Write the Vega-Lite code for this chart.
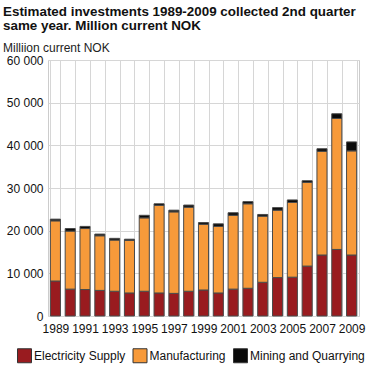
{
  "$schema": "https://vega.github.io/schema/vega-lite/v6.json",
  "width": 311,
  "height": 256,
  "autosize": {"type": "none"},
  "padding": {"left": 48, "top": 60, "right": 10, "bottom": 53},
  "background": "white",
  "title": {
    "text": ["Estimated investments 1989-2009 collected 2nd quarter", "same year. Million current NOK"],
    "subtitle": "Milliion current NOK",
    "anchor": "start",
    "frame": "group",
    "font": "Liberation Sans",
    "fontSize": 13.4,
    "fontWeight": "bold",
    "color": "#111111",
    "lineHeight": 13.5,
    "subtitleFont": "Liberation Sans",
    "subtitleFontSize": 12,
    "subtitleColor": "#222222",
    "subtitlePadding": 11,
    "dx": -45,
    "offset": 0
  },
  "data": {
    "values": [
      {"year": 1989, "sector": "Electricity Supply", "value": 8200},
      {"year": 1989, "sector": "Manufacturing", "value": 14100},
      {"year": 1989, "sector": "Mining and Quarrying", "value": 400},
      {"year": 1990, "sector": "Electricity Supply", "value": 6300},
      {"year": 1990, "sector": "Manufacturing", "value": 13600},
      {"year": 1990, "sector": "Mining and Quarrying", "value": 600},
      {"year": 1991, "sector": "Electricity Supply", "value": 6200},
      {"year": 1991, "sector": "Manufacturing", "value": 14300},
      {"year": 1991, "sector": "Mining and Quarrying", "value": 500},
      {"year": 1992, "sector": "Electricity Supply", "value": 6000},
      {"year": 1992, "sector": "Manufacturing", "value": 12800},
      {"year": 1992, "sector": "Mining and Quarrying", "value": 400},
      {"year": 1993, "sector": "Electricity Supply", "value": 5800},
      {"year": 1993, "sector": "Manufacturing", "value": 12000},
      {"year": 1993, "sector": "Mining and Quarrying", "value": 400},
      {"year": 1994, "sector": "Electricity Supply", "value": 5400},
      {"year": 1994, "sector": "Manufacturing", "value": 12300},
      {"year": 1994, "sector": "Mining and Quarrying", "value": 300},
      {"year": 1995, "sector": "Electricity Supply", "value": 5800},
      {"year": 1995, "sector": "Manufacturing", "value": 17200},
      {"year": 1995, "sector": "Mining and Quarrying", "value": 600},
      {"year": 1996, "sector": "Electricity Supply", "value": 5400},
      {"year": 1996, "sector": "Manufacturing", "value": 20500},
      {"year": 1996, "sector": "Mining and Quarrying", "value": 400},
      {"year": 1997, "sector": "Electricity Supply", "value": 5300},
      {"year": 1997, "sector": "Manufacturing", "value": 19100},
      {"year": 1997, "sector": "Mining and Quarrying", "value": 400},
      {"year": 1998, "sector": "Electricity Supply", "value": 5800},
      {"year": 1998, "sector": "Manufacturing", "value": 19700},
      {"year": 1998, "sector": "Mining and Quarrying", "value": 500},
      {"year": 1999, "sector": "Electricity Supply", "value": 6100},
      {"year": 1999, "sector": "Manufacturing", "value": 15400},
      {"year": 1999, "sector": "Mining and Quarrying", "value": 400},
      {"year": 2000, "sector": "Electricity Supply", "value": 5400},
      {"year": 2000, "sector": "Manufacturing", "value": 15600},
      {"year": 2000, "sector": "Mining and Quarrying", "value": 600},
      {"year": 2001, "sector": "Electricity Supply", "value": 6300},
      {"year": 2001, "sector": "Manufacturing", "value": 17300},
      {"year": 2001, "sector": "Mining and Quarrying", "value": 600},
      {"year": 2002, "sector": "Electricity Supply", "value": 6500},
      {"year": 2002, "sector": "Manufacturing", "value": 19800},
      {"year": 2002, "sector": "Mining and Quarrying", "value": 500},
      {"year": 2003, "sector": "Electricity Supply", "value": 7900},
      {"year": 2003, "sector": "Manufacturing", "value": 15500},
      {"year": 2003, "sector": "Mining and Quarrying", "value": 400},
      {"year": 2004, "sector": "Electricity Supply", "value": 9000},
      {"year": 2004, "sector": "Manufacturing", "value": 15800},
      {"year": 2004, "sector": "Mining and Quarrying", "value": 600},
      {"year": 2005, "sector": "Electricity Supply", "value": 9100},
      {"year": 2005, "sector": "Manufacturing", "value": 17500},
      {"year": 2005, "sector": "Mining and Quarrying", "value": 600},
      {"year": 2006, "sector": "Electricity Supply", "value": 11700},
      {"year": 2006, "sector": "Manufacturing", "value": 19600},
      {"year": 2006, "sector": "Mining and Quarrying", "value": 400},
      {"year": 2007, "sector": "Electricity Supply", "value": 14300},
      {"year": 2007, "sector": "Manufacturing", "value": 24300},
      {"year": 2007, "sector": "Mining and Quarrying", "value": 600},
      {"year": 2008, "sector": "Electricity Supply", "value": 15600},
      {"year": 2008, "sector": "Manufacturing", "value": 30700},
      {"year": 2008, "sector": "Mining and Quarrying", "value": 1100},
      {"year": 2009, "sector": "Electricity Supply", "value": 14300},
      {"year": 2009, "sector": "Manufacturing", "value": 24400},
      {"year": 2009, "sector": "Mining and Quarrying", "value": 2100}
    ]
  },
  "mark": {"type": "bar", "stroke": "#4a4a4a", "strokeWidth": 1},
  "encoding": {
    "x": {
      "field": "year",
      "type": "ordinal",
      "scale": {"paddingInner": 0.32, "paddingOuter": 0.16},
      "axis": {
        "title": null,
        "labelAngle": 0,
        "labelExpr": "datum.value % 2 == 1 ? datum.label : ''",
        "labelOverlap": false,
        "labelFont": "Liberation Sans",
        "labelFontSize": 12,
        "labelColor": "#111111",
        "labelPadding": 7,
        "ticks": false,
        "domain": false,
        "grid": true,
        "tickBand": "extent",
        "gridColor": "#d6d6d6",
        "gridWidth": 1
      }
    },
    "y": {
      "field": "value",
      "type": "quantitative",
      "aggregate": "sum",
      "stack": "zero",
      "scale": {"domain": [0, 60000], "nice": false},
      "axis": {
        "title": null,
        "values": [0, 10000, 20000, 30000, 40000, 50000, 60000],
        "labelExpr": "replace(format(datum.value, ','), ',', ' ')",
        "labelFont": "Liberation Sans",
        "labelFontSize": 12,
        "labelColor": "#111111",
        "labelPadding": 5,
        "ticks": false,
        "domain": false,
        "grid": true,
        "gridColor": "#d6d6d6",
        "gridWidth": 1
      }
    },
    "color": {
      "field": "sector",
      "type": "nominal",
      "scale": {
        "domain": ["Electricity Supply", "Manufacturing", "Mining and Quarrying"],
        "range": ["#991b1f", "#f79a3a", "#0a0a0a"]
      },
      "legend": {
        "title": null,
        "orient": "none",
        "direction": "horizontal",
        "legendX": -31,
        "legendY": 288,
        "symbolType": "square",
        "symbolSize": 196,
        "symbolStrokeColor": "#333333",
        "symbolStrokeWidth": 1,
        "symbolOpacity": 1,
        "labelFont": "Liberation Sans",
        "labelFontSize": 12,
        "labelColor": "#111111",
        "labelOffset": 2,
        "columnPadding": 4.5
      }
    },
    "order": {"field": "sector", "type": "nominal", "sort": "ascending"}
  },
  "config": {
    "view": {"stroke": "#cccccc"}
  }
}
